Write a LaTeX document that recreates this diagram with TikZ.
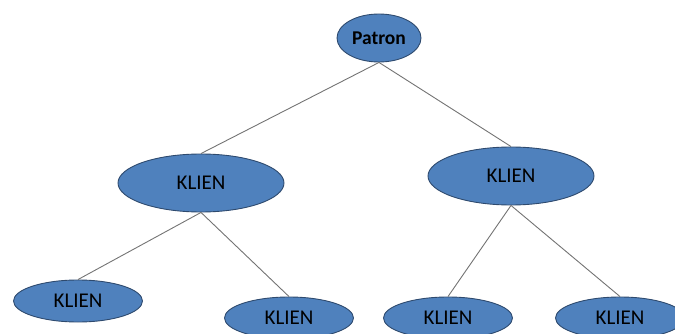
\documentclass[tikz,border=0pt]{standalone}
\usepackage{fontspec}
\setmainfont{Carlito}
\usetikzlibrary{shapes.geometric}
\definecolor{klienfill}{HTML}{4F81BD}
\definecolor{klienline}{HTML}{2E4A6E}
\tikzset{
  pers/.style={ellipse, draw=klienline, fill=klienfill, line width=0.9pt, inner sep=0pt, font=\fontsize{21}{23}\selectfont},
  big/.style={pers, minimum width=166pt, minimum height=58pt},
  small/.style={pers, minimum width=129pt, minimum height=42pt},
  link/.style={draw=gray!90!black, line width=0.9pt}
}
\begin{document}
\begin{tikzpicture}[x=1pt,y=-1pt]
\useasboundingbox (0,0) rectangle (675,334);
% top
\node[pers, minimum width=84pt, minimum height=48pt, font=\fontsize{19.5}{22}\selectfont\bfseries] (patron) at (379,38) {Patron};
% middle row
\node[big] (kl) at (201,183) {KLIEN};
\node[big] (kr) at (511,176) {KLIEN};
% bottom row
\node[small] (kll) at (78,301) {KLIEN};
\node[small] (klr) at (289,318) {KLIEN};
\node[small] (krl) at (448,318) {KLIEN};
\node[small] (krr) at (620,318) {KLIEN};
% links
\draw[link] (patron.south) -- (kl.north);
\draw[link] (patron.south) -- (kr.north);
\draw[link] (kl.south) -- (kll.north);
\draw[link] (kl.south) -- (klr.north);
\draw[link] (kr.south) -- (krl.north);
\draw[link] (kr.south) -- (krr.north);
\end{tikzpicture}
\end{document}
